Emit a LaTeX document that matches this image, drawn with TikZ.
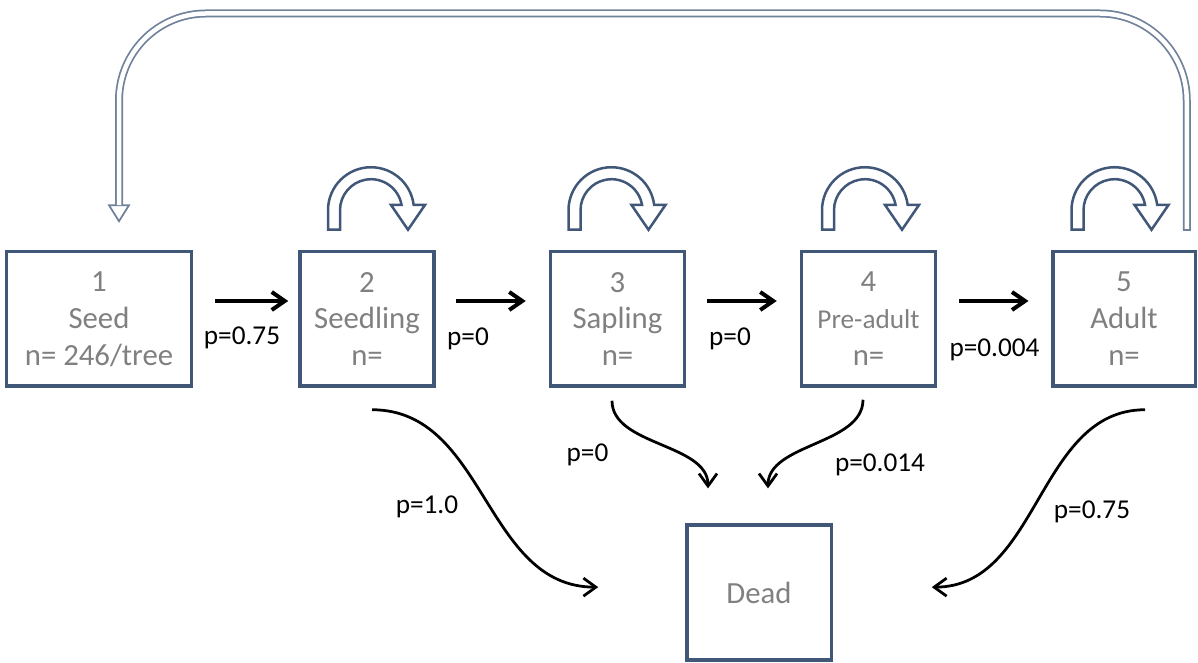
\documentclass[tikz,border=0pt]{standalone}
\usepackage{fontspec}
\setmainfont{Carlito}
\usetikzlibrary{arrows.meta}
\definecolor{boxblue}{RGB}{64,87,120}
\definecolor{boxtext}{RGB}{128,128,128}
\begin{document}
\begin{tikzpicture}[line width=.55mm,
    stage/.style={draw=boxblue,line width=.7mm,align=center,text=boxtext,inner sep=0pt,
      font=\fontsize{17.5}{21}\selectfont,minimum width=2.68cm,minimum height=2.69cm},
    flow/.style={line width=.8mm,-{Straight Barb[length=2.6mm,width=3.6mm]}},
    dying/.style={-{Straight Barb[length=2.5mm,width=3.6mm]}},
    prob/.style={font=\fontsize{15.5}{18}\selectfont},
    loopshape/.style={draw=boxblue,line width=.5mm,fill=white},
    back/.style={draw=boxblue!75,line width=.35mm,double=white,double distance=.9mm},
    backtip/.style={draw=boxblue!75,line width=.35mm,fill=white}]
      \useasboundingbox (0,0) rectangle (23.96,13.26);

      \node[stage,minimum width=3.69cm] (B1) at (1.98,6.88) {1\\Seed\\n= 246/tree};
      \node[stage] (B2) at (7.34,6.88) {2\\Seedling\\n=};
      \node[stage] (B3) at (12.35,6.88) {3\\Sapling\\n=};
      \node[stage] (B4) at (17.37,6.88) {4\\{\fontsize{15.5}{18}\selectfont Pre-adult}\\n=};
      \node[stage,minimum width=2.85cm] (B5) at (22.48,6.88) {5\\Adult\\n=};
      \node[stage,minimum width=2.89cm,minimum height=2.7cm] (D) at (15.18,1.41) {Dead};

      \draw[flow] ([xshift=4.35mm,yshift=3.6mm]B1.east) -- ([xshift=-2mm,yshift=3.6mm]B2.west);
      \draw[flow] ([xshift=4.1mm,yshift=3.6mm]B2.east) -- ([xshift=-4.6mm,yshift=3.6mm]B3.west);
      \draw[flow] ([xshift=4.1mm,yshift=3.6mm]B3.east) -- ([xshift=-4.6mm,yshift=3.6mm]B4.west);
      \draw[flow] ([xshift=4.3mm,yshift=3.6mm]B4.east) -- ([xshift=-4.5mm,yshift=3.6mm]B5.west);

      \node[prob] (p12) at (4.84,6.5) {p=0.75};
      \node[prob] (p23) at (9.36,6.49) {p=0};
      \node[prob] (p34) at (14.6,6.49) {p=0};
      \node[prob] (p45) at (19.89,6.26) {p=0.004};

      \foreach \b/\dx in {B2/0.08,B3/-0.12,B4/-0.07,B5/-0.19}
        \draw[loopshape,shift={(\b.north)},xshift=\dx cm,yshift=7.95mm]
          (-0.86,-0.39) -- (-0.86,0) arc[start angle=180,end angle=7.1,radius=0.86]
          -- (1.08,0.106) -- (0.74,-0.39) -- (0.40,0.106) -- (0.611,0.106)
          arc[start angle=9.8,end angle=180,radius=0.62] -- (-0.62,-0.39) -- cycle;

      \coordinate (rs) at ([xshift=-2.05mm,yshift=4mm]B5.north east);
      \coordinate (re) at ([xshift=4mm,yshift=8.95mm]B1.north);
      \draw[backtip] ([xshift=-2mm]re) -- ([xshift=2mm]re) -- ([yshift=-3.2mm]re) -- cycle;
      \draw[back,rounded corners=17.4mm] (rs) -- (rs |- 0,12.99) -- (re |- 0,12.99) -- (re);
      \draw[boxblue!75,line width=.35mm] ([xshift=-.8mm]rs) -- ([xshift=.8mm]rs);

      \draw[dying] ([xshift=1mm,yshift=-4.35mm]B2.south)
        .. controls +(2.28,0) and +(-2.28,0) .. ([xshift=-17.35mm,yshift=1.07mm]D.west);
      \draw[dying] ([xshift=-1.1mm,yshift=-2.55mm]B3.south)
        .. controls +(0,-0.9) and +(0,0.9) .. ([xshift=-10.2mm,yshift=6.97mm]D.north);
      \draw[dying] ([xshift=-1.1mm,yshift=-2.35mm]B4.south)
        .. controls +(0,-0.9) and +(0,0.9) .. ([xshift=1.8mm,yshift=6.97mm]D.north);
      \draw[dying] ([xshift=4.2mm,yshift=-4.35mm]B5.south)
        .. controls +(-2.15,0) and +(2.15,0) .. ([xshift=19.75mm,yshift=1.07mm]D.east);

      \node[prob] (p2d) at (8.54,3.13) {p=1.0};
      \node[prob] (p3d) at (11.75,4.16) {p=0};
      \node[prob] (p4d) at (17.6,3.96) {p=0.014};
      \node[prob] (p5d) at (21.84,3.03) {p=0.75};
    \end{tikzpicture}
\end{document}
